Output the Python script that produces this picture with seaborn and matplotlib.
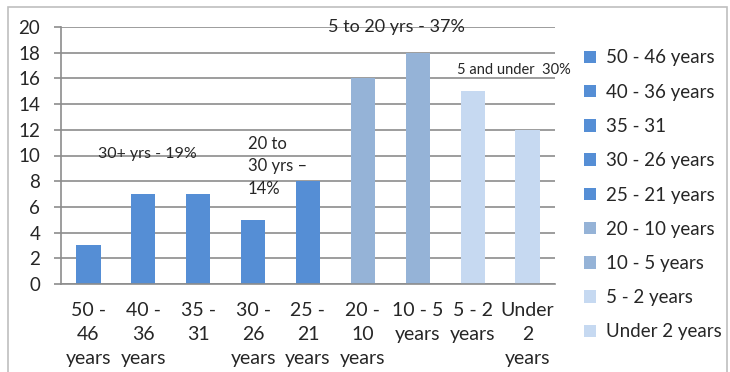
import matplotlib
matplotlib.use("Agg")
import matplotlib.pyplot as plt
import seaborn as sns
import pandas as pd
from matplotlib.patches import Patch, Rectangle

categories = ["50 - 46 years", "40 - 36 years", "35 - 31", "30 - 26 years", "25 - 21 years",
              "20 - 10 years", "10 - 5 years", "5 - 2 years", "Under 2 years"]
tick_labels = ["50 -\n46\nyears", "40 -\n36\nyears", "35 -\n31\n", "30 -\n26\nyears", "25 -\n21\nyears",
               "20 -\n10\nyears", "10 - 5\nyears\n", "5 - 2\nyears\n", "Under\n2\nyears"]
values = [3, 7, 7, 5, 8, 16, 18, 15, 12]
colors = ["#558ED5"] * 5 + ["#95B3D7"] * 2 + ["#C6D9F1"] * 2

sns.set_theme(style="white")
plt.rcParams["font.family"] = ["Lato", "DejaVu Sans"]

df = pd.DataFrame({"cat": categories, "val": values})

fig = plt.figure(figsize=(7.3, 3.72), dpi=100)
ax = fig.add_axes([61/730, 1-284/372, (555-61)/730, (284-27)/372])

sns.barplot(data=df, x="cat", y="val", hue="cat", palette=colors, order=categories,
            hue_order=categories, width=0.44, legend=False, ax=ax, saturation=1,
            linewidth=0, edgecolor="none")

ax.set_ylim(0, 20)
ax.set_xlim(-0.5, 8.5)
ax.set_yticks(range(0, 21, 2))
ax.set_yticklabels([str(v) for v in range(0, 21, 2)], fontsize=13.5)
ax.yaxis.grid(True, color="#8C8C8C", linewidth=1.2)
ax.set_axisbelow(True)
ax.set_xlabel("")
ax.set_ylabel("")

ax.set_xticks(range(9))
ax.set_xticklabels(tick_labels, fontsize=14, linespacing=1.5, va="top")
ax.tick_params(axis="x", length=0, pad=13)
ax.set_xticks([i - 0.5 for i in range(10)], minor=True)
ax.tick_params(axis="x", which="minor", length=5, width=1.2, color="#8C8C8C", direction="out")
ax.tick_params(axis="y", length=5, width=1.2, color="#8C8C8C", direction="out", pad=10, left=True)

for s in ["top", "right"]:
    ax.spines[s].set_visible(False)
for s in ["left", "bottom"]:
    ax.spines[s].set_color("#8C8C8C")
    ax.spines[s].set_linewidth(1.2)

ax.text(0.17, 10.1, "30+ yrs - 19%", fontsize=11.5, va="center", ha="left")
ax.text(2.906, 9.15, "20 to\n30 yrs –\n14%", fontsize=12, va="center", ha="left", linespacing=1.5)
ax.text(4.36, 20.0, "5 to 20 yrs - 37%", fontsize=13, va="center", ha="left")
ax.text(6.71, 16.65, "5 and under  30%", fontsize=10.5, va="center", ha="left")

handles = [Patch(facecolor=c, edgecolor="none") for c in colors]
fig.legend(handles, categories, loc="upper left", bbox_to_anchor=(576/730, 1-42/372),
           frameon=False, fontsize=13.5, handlelength=0.65, handleheight=0.65,
           handletextpad=0.55, labelspacing=0.92, borderaxespad=0)

fig.patches.append(Rectangle((8/730, -0.05), (727-8)/730, 1.05-7/372, transform=fig.transFigure,
                             fill=False, edgecolor="#BFBFBF", linewidth=1.2))

fig.savefig("out.png", dpi=100)
